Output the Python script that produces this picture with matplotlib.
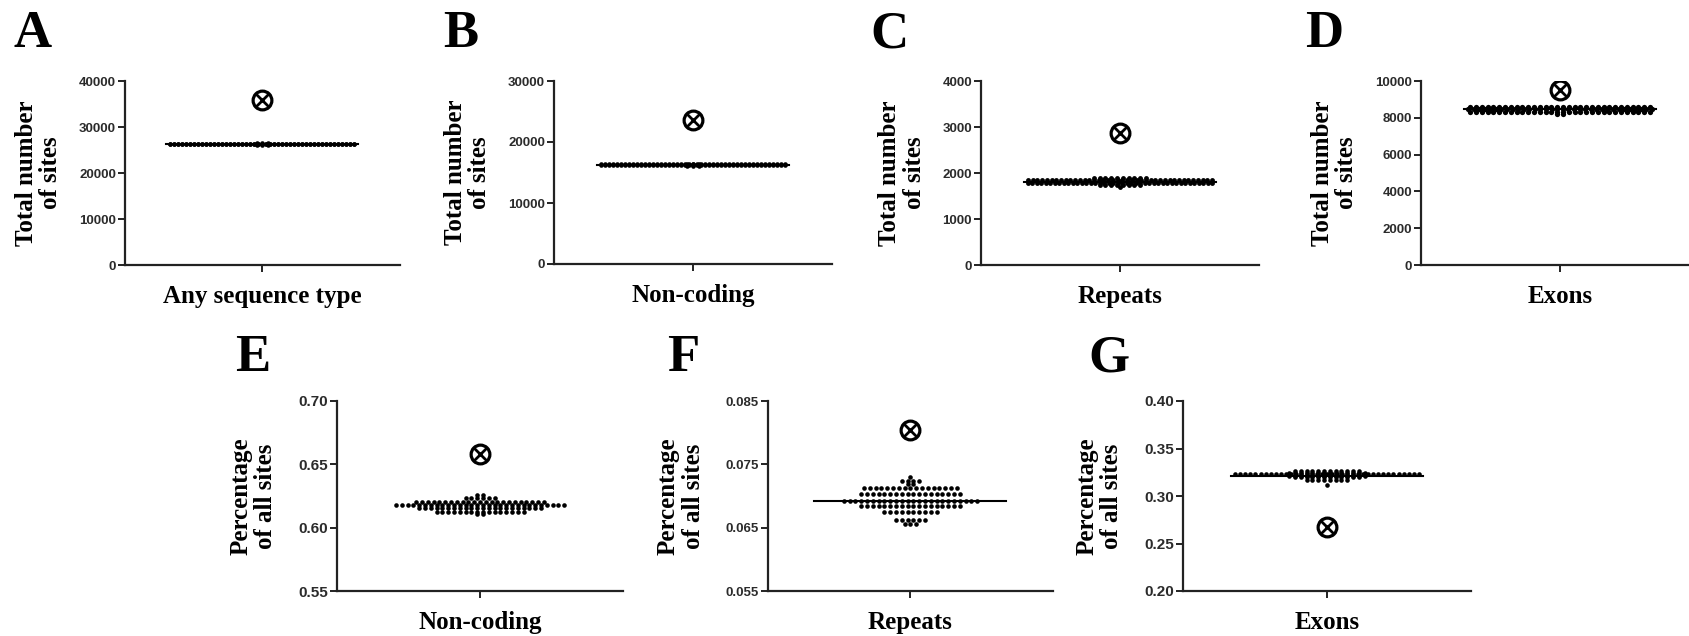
import numpy as np
import matplotlib.pyplot as plt

# panel texts
panels = ['A', 'B', 'C', 'D', 'E', 'F', 'G']
xlabels = ['Any sequence type', 'Non-coding', 'Repeats', 'Exons',
           'Non-coding', 'Repeats', 'Exons']
ylabels = ['Total number\nof sites'] * 4 + ['Percentage\nof all sites'] * 3

# null distributions (value, number of dots)
a_vals = [26600, 26350, 26250, 26050]
a_counts = [3, 47, 47, 3]
b_vals = [16450, 16320, 16220, 16100]
b_counts = [3, 47, 47, 3]
c_vals = [1900, 1845, 1785, 1730, 1700]
c_counts = [10, 40, 42, 8, 1]
d_vals = [8600, 8470, 8340, 8180]
d_counts = [32, 34, 32, 2]
e_vals = [0.6260, 0.6232, 0.6205, 0.6179, 0.6153, 0.6121, 0.6105]
e_counts = [2, 6, 23, 30, 22, 16, 2]
f_vals = [0.07295, 0.07232, 0.07185, 0.07131, 0.07027, 0.06926,
          0.06842, 0.06742, 0.06621, 0.06558]
f_counts = [1, 4, 2, 17, 18, 24, 18, 10, 6, 3]
g_vals = [0.3265, 0.3245, 0.3228, 0.3210, 0.3195, 0.3170, 0.3116]
g_counts = [12, 14, 37, 14, 12, 8, 1]

# observed value (circled cross) and mean of the null distribution
observed = [35800, 23600, 2880, 9530, 0.658, 0.0805, 0.2677]
means = [26300, 16270, 1815, 8470, None, 0.0692, 0.3214]

yticks = [[0, 10000, 20000, 30000, 40000],
          [0, 10000, 20000, 30000],
          [0, 1000, 2000, 3000, 4000],
          [0, 2000, 4000, 6000, 8000, 10000],
          [0.55, 0.60, 0.65, 0.70],
          [0.055, 0.065, 0.075, 0.085],
          [0.20, 0.25, 0.30, 0.35, 0.40]]
yfmt = ['{:.0f}'] * 4 + ['{:.2f}', '{:.3f}', '{:.2f}']

rows = [(a_vals, a_counts), (b_vals, b_counts), (c_vals, c_counts),
        (d_vals, d_counts), (e_vals, e_counts), (f_vals, f_counts),
        (g_vals, g_counts)]

# layout in pixels: left, right, top, bottom of each plot box
W, H = 1690, 636
boxes = [(125, 400, 81, 265), (554, 832, 81, 264), (981, 1259, 81, 265),
         (1421, 1699, 81, 265), (337, 623, 401, 591), (768, 1053, 401, 591),
         (1183, 1471, 401, 591)]
letter_pos = [(14, 10), (443, 10), (870, 10), (1305, 10),
              (235, 334), (667, 334), (1088, 334)]
tick_size = [9.5, 9.5, 9.5, 9.5, 11, 9.5, 11]
dot_size = [3.3, 3.3, 3.5, 3.8, 3.3, 3.3, 3.3]

serif = 'Liberation Serif'
sans = 'Liberation Sans'

fig = plt.figure(figsize=(W / 100, H / 100), dpi=100)

for i in range(7):
    l, r, t, b = boxes[i]
    ax = fig.add_axes([l / W, 1 - b / H, (r - l) / W, (b - t) / H])
    px = 2.0 / (r - l)  # one pixel in x data units

    vals, counts = rows[i]
    for v, n in zip(vals, counts):
        span = min((n - 1) * 5.8, 184)
        xs = np.linspace(-span / 2, span / 2, n) * px if n > 1 else np.array([0.0])
        ax.plot(xs, [v] * n, 'o', color='black', ms=dot_size[i], mew=0, zorder=3)

    if means[i] is not None:
        ax.plot([-96 * px, 96 * px], [means[i], means[i]], color='black',
                lw=1.5, zorder=2)

    ax.plot(0, observed[i], 'o', ms=13.5, mfc='none', mec='black', mew=2.3, zorder=4)
    ax.plot(0, observed[i], 'x', ms=9, color='black', mew=2.0, zorder=4)

    ax.set_xlim(-1, 1)
    ax.set_ylim(yticks[i][0], yticks[i][-1])
    ax.set_yticks(yticks[i])
    ax.set_yticklabels([yfmt[i].format(y) for y in yticks[i]],
                       fontfamily=sans, fontweight='bold', fontsize=tick_size[i],
                       color='#2b2b2b')
    ax.set_xticks([0])
    ax.set_xticklabels([''])
    for s in ['top', 'right']:
        ax.spines[s].set_visible(False)
    for s in ['left', 'bottom']:
        ax.spines[s].set_linewidth(1.6)
        ax.spines[s].set_color('#222222')
    ax.tick_params(length=5, width=1.4, color='#222222', pad=1.5)

    ax.set_xlabel(xlabels[i], fontfamily=serif, fontweight='bold', fontsize=18,
                  labelpad=8)
    ax.set_ylabel(ylabels[i], fontfamily=serif, fontweight='bold', fontsize=18,
                  labelpad=12 if i < 4 else 15, linespacing=1.1)

    lx, ly = letter_pos[i]
    fig.text(lx / W, 1 - ly / H, panels[i], fontfamily=serif, fontweight='bold',
             fontsize=38, ha='left', va='top')

fig.savefig('out.png', dpi=100)
